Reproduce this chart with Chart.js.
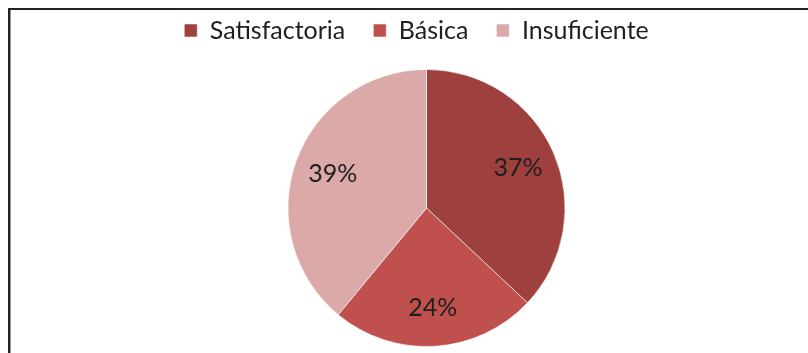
<!DOCTYPE html>
<html>
<head>
<meta charset="utf-8">
<script src="https://cdn.jsdelivr.net/npm/chart.js@4.4.1/dist/chart.umd.min.js"></script>
<style>
  body {
    margin: 0;
    width: 808px;
    height: 353px;
    overflow: hidden;
    background: #fff;
    position: relative;
  }
  #frame {
    position: absolute;
    left: 8px;
    top: 8px;
    width: 900px;
    height: 400px;
    border-left: 2px solid #222;
    border-top: 2px solid #222;
    box-shadow: inset 1px 0 0 #9a9a9a;
  }
  #resultChart {
    position: absolute;
    left: 10px;
    top: -10px;
  }
</style>
</head>
<body>
<div id="frame"></div>
<canvas id="resultChart" width="833" height="357"></canvas>

<script>
// Levels and their share of results
const levels = ["Satisfactoria", "Básica", "Insuficiente"];
const shares = [37, 24, 39];
const sliceColors = ["#9D403E", "#C0504D", "#DAA9A8"];

const fontFamily = "Lato, 'Open Sans', sans-serif";

// Extra room under the legend and a small nudge to the left
const legendSpacing = {
  id: "legendSpacing",
  beforeInit(chart) {
    const fit = chart.legend.fit;
    chart.legend.fit = function () {
      fit.bind(chart.legend)();
      this.height += 16;
    };
  },
  afterLayout(chart) {
    chart.legend.left -= 10;
    chart.legend.right -= 10;
  },
};

// Percentage text inside each slice
const sliceLabels = {
  id: "sliceLabels",
  afterDatasetsDraw(chart) {
    const ctx = chart.ctx;
    const meta = chart.getDatasetMeta(0);
    const data = chart.data.datasets[0].data;
    const total = data.reduce((a, b) => a + b, 0);

    ctx.save();
    ctx.font = "25px " + fontFamily;
    ctx.fillStyle = "#1f1f1f";
    ctx.textAlign = "center";
    ctx.textBaseline = "middle";

    meta.data.forEach((arc, i) => {
      const { x, y, startAngle, endAngle, outerRadius } = arc.getProps(
        ["x", "y", "startAngle", "endAngle", "outerRadius"],
        true
      );
      const mid = (startAngle + endAngle) / 2;
      const r = outerRadius * 0.72;
      const pct = Math.round((data[i] / total) * 100) + "%";
      ctx.fillText(pct, x + Math.cos(mid) * r, y + Math.sin(mid) * r);
    });
    ctx.restore();
  },
};

new Chart(document.getElementById("resultChart"), {
  type: "pie",
  data: {
    labels: levels,
    datasets: [
      {
        data: shares,
        backgroundColor: sliceColors,
        borderColor: "rgba(255, 255, 255, 0.55)",
        borderWidth: 1,
      },
    ],
  },
  options: {
    responsive: false,
    animation: false,
    devicePixelRatio: 1,
    layout: { padding: 0 },
    plugins: {
      legend: {
        position: "top",
        labels: {
          boxWidth: 13,
          boxHeight: 13,
          padding: 28,
          color: "#1f1f1f",
          font: { family: fontFamily, size: 25 },
        },
      },
      tooltip: { enabled: false },
    },
  },
  plugins: [legendSpacing, sliceLabels],
});
</script>
</body>
</html>
